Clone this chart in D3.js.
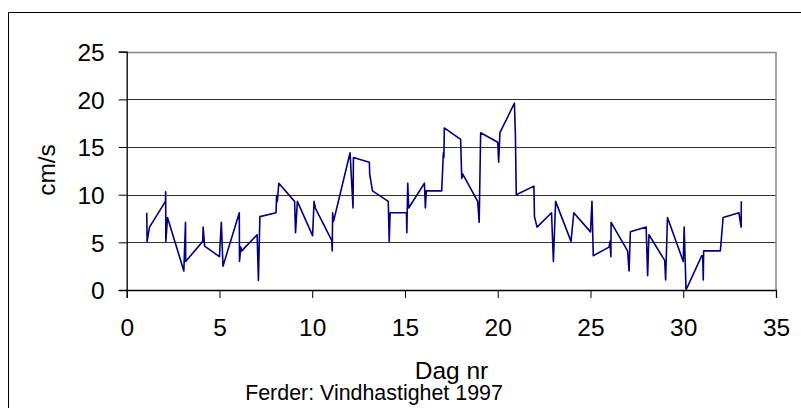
<!DOCTYPE html>
<html>
<head>
<meta charset="utf-8">
<script src="https://cdn.jsdelivr.net/npm/d3@7"></script>
<style>
  body { margin: 0; background: #fff; }
  svg { display: block; font-family: "Liberation Sans", Arial, sans-serif; }
</style>
</head>
<body>
<svg id="svg" width="801" height="408"></svg>
<script>
// Ferder: vindhastighet 1997
var dagNr = [1.08, 1.1, 1.23, 2.09, 2.1, 2.11, 2.2, 3.08, 3.17, 3.18, 4.1, 4.12, 4.2, 5.0, 5.1, 5.19,
  6.07, 6.08, 6.15, 6.2, 7.03, 7.1, 7.18, 8.05, 8.08, 8.12, 8.2, 9.05, 9.1, 9.2, 10.02, 10.1, 10.17,
  11.05, 11.08, 11.1, 11.15, 12.04, 12.2, 12.22, 13.08, 13.1, 13.25, 14.1, 14.15, 14.2, 15.08, 15.1,
  15.15, 15.2, 16.05, 16.1, 16.15, 16.98, 17.07, 17.1, 17.12, 18.0, 18.06, 18.1, 18.92, 19.0, 19.08,
  20.0, 20.05, 20.12, 20.9, 20.95, 21.0, 21.95, 21.98, 22.12, 22.9, 23.0, 23.12, 23.95, 24.1, 25.0,
  25.08, 25.15, 26.0, 26.05, 26.1, 26.11, 27.0, 27.08, 27.15, 28.0, 28.08, 28.15, 29.0, 29.05, 29.15,
  30.0, 30.05, 30.15, 31.0, 31.05, 31.08, 31.1, 32.0, 32.15, 33.0, 33.12, 33.13];
var fart = [8.1, 5.1, 6.6, 9.3, 10.3, 5.1, 7.6, 2.0, 7.1, 3.0, 5.1, 6.6, 4.6, 3.5, 7.1, 2.5,
  8.1, 3.0, 4.5, 4.1, 5.8, 1.0, 7.7, 8.1, 9.9, 9.3, 11.2, 9.3, 6.0, 9.3, 5.7, 9.3, 8.6,
  5.2, 4.1, 8.1, 7.2, 14.4, 8.6, 13.9, 13.4, 12.1, 10.4, 9.3, 5.1, 8.1, 8.1, 6.0,
  11.2, 8.6, 11.2, 8.6, 10.4, 10.4, 14.4, 13.9, 17.0, 15.8, 11.7, 12.2, 9.3, 7.1, 16.5,
  15.5, 13.4, 16.5, 19.6, 16.5, 10.0, 10.9, 7.7, 6.6, 8.1, 3.0, 9.3, 5.1, 8.1, 6.1,
  9.3, 3.6, 4.5, 5.1, 3.5, 7.1, 4.1, 2.0, 6.1, 6.6, 1.5, 5.8, 3.1, 1.05, 7.6,
  3.0, 6.6, 0.0, 3.6, 3.6, 1.05, 4.1, 4.1, 7.6, 8.1, 6.6, 9.3];
var xTicks = [0, 5, 10, 15, 20, 25, 30, 35];
var yTicks = [0, 5, 10, 15, 20, 25];

var svg = d3.select("#svg");
var plotLeft = 126.7, plotRight = 776, plotTop = 51.7, plotBottom = 290;

var x = d3.scaleLinear().domain([0, 35]).range([plotLeft, plotRight]);
var y = d3.scaleLinear().domain([0, 25]).range([plotBottom, plotTop]);

// outer chart frame (only left and top edges show)
svg.append("path")
    .attr("d", "M8.5,408 L8.5,12.5 L801,12.5")
    .attr("fill", "none")
    .attr("stroke", "#000")
    .attr("stroke-width", 1);

// gridlines
svg.append("g")
  .selectAll("line")
  .data(yTicks.filter(d => d > 0 && d < 25))
  .join("line")
    .attr("x1", plotLeft)
    .attr("x2", plotRight)
    .attr("y1", d => Math.round(y(d)) + 0.5)
    .attr("y2", d => Math.round(y(d)) + 0.5)
    .attr("stroke", "#333");

// plot area border (top + right in grey)
svg.append("path")
    .attr("d", "M" + plotLeft + "," + (Math.round(plotTop) + 0.5) + " L" + plotRight + "," + (Math.round(plotTop) + 0.5) + " L" + plotRight + "," + plotBottom)
    .attr("fill", "none")
    .attr("stroke", "#888")
    .attr("stroke-width", 1.5);

// axes
var yAxis = svg.append("g")
    .attr("transform", "translate(" + plotLeft + ",0)")
    .call(d3.axisLeft(y).tickValues(yTicks).tickSize(8).tickPadding(14));
var xAxis = svg.append("g")
    .attr("transform", "translate(0," + plotBottom + ")")
    .call(d3.axisBottom(x).tickValues(xTicks).tickSize(8).tickPadding(20));

[yAxis, xAxis].forEach(function(a) {
  a.select(".domain").attr("stroke", "#000").attr("stroke-width", 1.3);
  a.selectAll(".tick line").attr("stroke", "#000");
  a.selectAll(".tick text")
    .attr("fill", "#000")
    .attr("font-size", 24.5)
    .attr("font-family", "Liberation Sans, Arial, sans-serif");
});
yAxis.selectAll(".tick text").attr("dy", "0.36em");
xAxis.selectAll(".tick text").attr("dy", "0.72em");

// data line
var pts = dagNr.map((d, i) => [d, fart[i]]);
svg.append("path")
    .datum(pts)
    .attr("fill", "none")
    .attr("stroke", "#000080")
    .attr("stroke-width", 1.6)
    .attr("stroke-linejoin", "round")
    .attr("d", d3.line().x(d => x(d[0])).y(d => y(d[1])));

// labels
svg.append("text")
    .attr("transform", "translate(55,170) rotate(-90)")
    .attr("text-anchor", "middle")
    .attr("font-size", 24.5)
    .text("cm/s");

svg.append("text")
    .attr("x", 451.5)
    .attr("y", 378.5)
    .attr("text-anchor", "middle")
    .attr("font-size", 24.5)
    .text("Dag nr");

svg.append("text")
    .attr("x", 374)
    .attr("y", 400)
    .attr("text-anchor", "middle")
    .attr("font-size", 21.4)
    .text("Ferder: Vindhastighet 1997");
</script>
</body>
</html>
